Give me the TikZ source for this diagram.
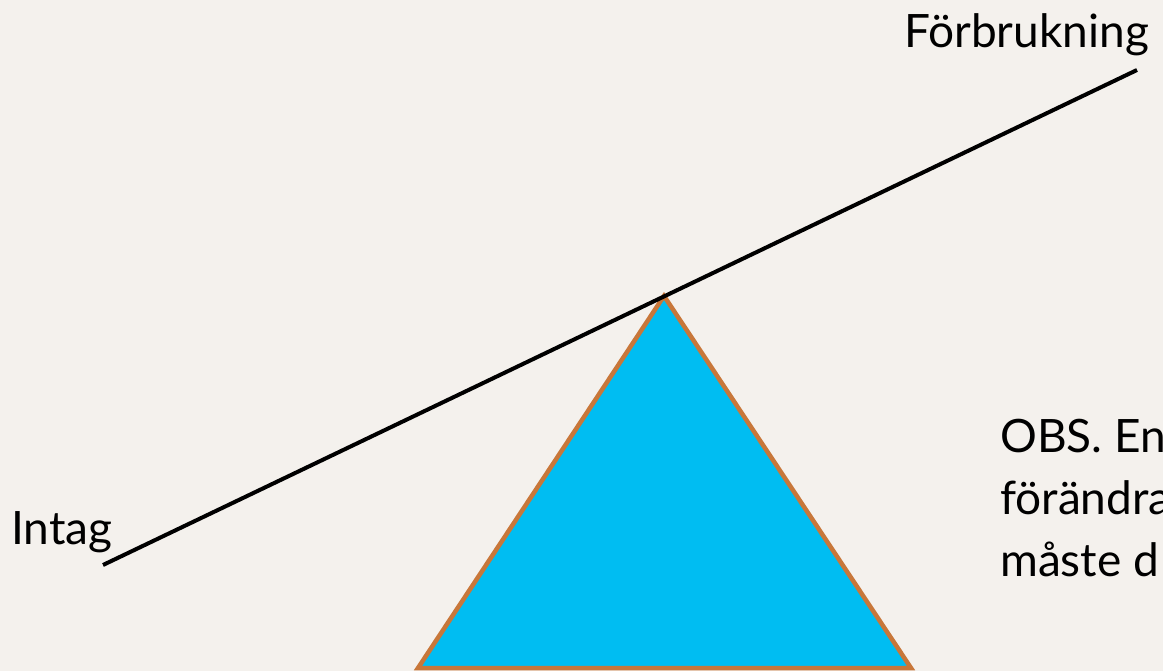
\documentclass[tikz,border=0pt]{standalone}
\usepackage{fontspec}
\setmainfont{Lato}
\definecolor{bg}{HTML}{F4F1ED}
\definecolor{tri}{HTML}{00BDF2}
\definecolor{triedge}{HTML}{C8773A}
\tikzset{
  lbl/.style={anchor=base west, inner sep=0pt, font=\fontsize{46}{62}\selectfont, text=black},
  beam/.style={line width=4pt, black},
  fulcrum/.style={fill=tri, draw=triedge, line width=4.5pt, line join=miter},
}
\begin{document}
\begin{tikzpicture}[x=1pt,y=-1pt]
\useasboundingbox (0,0) rectangle (1163,671);
\clip (0,0) rectangle (1163,671);
\fill[bg] (0,0) rectangle (1163,671);
\coordinate (apex) at (664,296);
\coordinate (bl) at (418,668);
\coordinate (br) at (911,668);
\draw[fulcrum] (apex) -- (bl) -- (br) -- cycle;
\coordinate (left) at (103,565);
\coordinate (right) at (1137,70);
\draw[beam] (left) -- (right);
\node[lbl] (forb) at (904,48) {Förbrukning};
\node[lbl] (intag) at (11,544) {Intag};
\node[lbl, align=left, anchor=north west] (obs) at (1000,419) {OBS. En\\förändra\\måste d};
\end{tikzpicture}
\end{document}
